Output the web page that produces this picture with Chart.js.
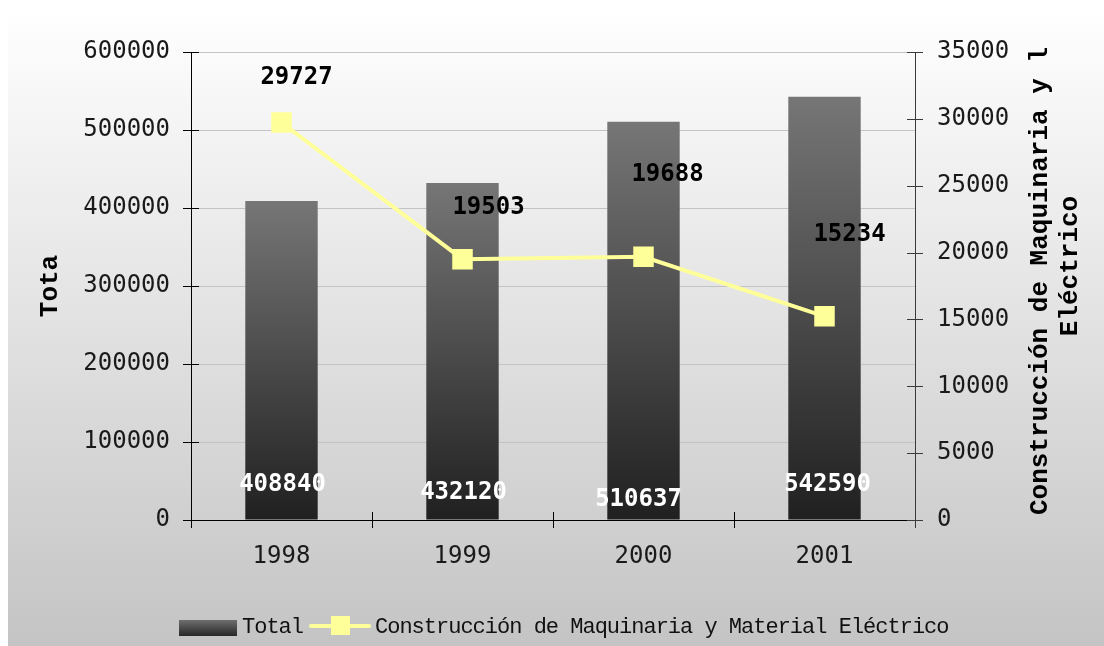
<!DOCTYPE html>
<html><head><meta charset="utf-8">
<script src="https://cdn.jsdelivr.net/npm/chart.js@4/dist/chart.umd.min.js"></script>
<style>html,body{margin:0;padding:0;background:#fff;}canvas{display:block;}</style>
</head><body>
<canvas id="c" width="1104" height="646"></canvas>
<script>
const categories = ['1998', '1999', '2000', '2001'];
const totalValues = [408840, 432120, 510637, 542590];
const maquinariaValues = [29727, 19503, 19688, 15234];
const leftTickValues = [0, 100000, 200000, 300000, 400000, 500000, 600000];
const rightTickValues = [0, 5000, 10000, 15000, 20000, 25000, 30000, 35000];
const seriesNames = ['Total', 'Construcción de Maquinaria y Material Eléctrico'];
const leftTitle = 'Tota';
const rightTitleLines = ['Construcción de Maquinaria y l', 'Eléctrico'];

// label placement tweaks (relative to the marks)
const lineLabelOffsets = [[15, -45], [26, -51], [24, -82], [25, -82]];
const barLabelOffsets = [[1, -35], [1, -27], [-5, -20], [3, -35]];

const TICK_FONT = '"DejaVu Sans Mono", monospace';

function barGradient(ctx) {
  const chart = ctx.chart;
  if (!chart.chartArea || ctx.raw === undefined) return '#444';
  const y = chart.scales.y;
  const top = y.getPixelForValue(ctx.raw);
  const bot = y.getPixelForValue(0);
  const g = chart.ctx.createLinearGradient(0, top, 0, bot);
  g.addColorStop(0, '#767676');
  g.addColorStop(1, '#202020');
  return g;
}

const bgPlugin = {
  id: 'bg',
  beforeDraw(chart) {
    const c = chart.ctx;
    c.save();
    c.fillStyle = '#ffffff';
    c.fillRect(0, 0, chart.width, chart.height);
    const g = c.createLinearGradient(0, 8, 0, chart.height);
    g.addColorStop(0, '#ffffff');
    g.addColorStop(1, '#c4c4c4');
    c.fillStyle = g;
    c.fillRect(8, 8, chart.width - 8, chart.height - 8);
    c.restore();
  }
};

const decorPlugin = {
  id: 'decor',
  afterDatasetsDraw(chart) {
    const c = chart.ctx;
    const ca = chart.chartArea;
    const x = chart.scales.x, y = chart.scales.y, y1 = chart.scales.y1;
    c.save();
    // axes lines
    c.lineWidth = 1;
    c.strokeStyle = '#000';
    c.beginPath();
    c.moveTo(Math.round(ca.left) + 0.5, ca.top);
    c.lineTo(Math.round(ca.left) + 0.5, ca.bottom + 8);
    c.moveTo(ca.left - 8, Math.round(ca.bottom) + 0.5);
    c.lineTo(ca.right, Math.round(ca.bottom) + 0.5);
    leftTickValues.forEach(v => {
      const py = Math.round(y.getPixelForValue(v)) + 0.5;
      c.moveTo(ca.left - 8, py); c.lineTo(ca.left + 8, py);
    });
    for (let i = 1; i < categories.length; i++) {
      const px = Math.round(x.getPixelForValue(i - 0.5)) + 0.5;
      c.moveTo(px, ca.bottom - 8); c.lineTo(px, ca.bottom + 8);
    }
    c.stroke();
    c.strokeStyle = '#3a3a3a';
    c.beginPath();
    c.moveTo(Math.round(ca.right) + 0.5, ca.top);
    c.lineTo(Math.round(ca.right) + 0.5, ca.bottom + 8);
    rightTickValues.forEach(v => {
      const py = Math.round(y1.getPixelForValue(v)) + 0.5;
      c.moveTo(ca.right - 8, py); c.lineTo(ca.right + 8, py);
    });
    c.stroke();
    c.restore();
  },
  afterDraw(chart) {
    const c = chart.ctx;
    const ca = chart.chartArea;
    c.save();
    // bar labels
    const barMeta = chart.getDatasetMeta(1);
    c.font = 'bold 24px ' + TICK_FONT;
    c.textAlign = 'center';
    c.textBaseline = 'middle';
    c.fillStyle = '#ffffff';
    barMeta.data.forEach((el, i) => {
      const o = barLabelOffsets[i];
      c.fillText(String(totalValues[i]), el.x + o[0], el.base + o[1]);
    });
    // line labels
    const lineMeta = chart.getDatasetMeta(0);
    c.fillStyle = '#000000';
    lineMeta.data.forEach((el, i) => {
      const o = lineLabelOffsets[i];
      c.fillText(String(maquinariaValues[i]), el.x + o[0], el.y + o[1]);
    });
    // axis titles
    c.font = 'bold 26px "Liberation Mono", monospace';
    c.save();
    c.translate(50, (ca.top + ca.bottom) / 2);
    c.rotate(-Math.PI / 2);
    c.fillText(leftTitle, 0, 0);
    c.restore();
    c.save();
    c.translate(1040, 281);
    c.rotate(-Math.PI / 2);
    c.fillText(rightTitleLines[0], 0, 0);
    c.restore();
    c.save();
    c.translate(1070, 266);
    c.rotate(-Math.PI / 2);
    c.fillText(rightTitleLines[1], 0, 0);
    c.restore();
    // legend
    const ly = 627;
    const lg = c.createLinearGradient(0, 620, 0, 636);
    lg.addColorStop(0, '#6e6e6e');
    lg.addColorStop(1, '#282828');
    c.fillStyle = lg;
    c.fillRect(179, 620, 58, 16);
    c.font = '22px "Liberation Mono", monospace';
    c.letterSpacing = '-1px';
    c.textAlign = 'left';
    c.fillStyle = '#111';
    c.fillText(seriesNames[0], 242, ly);
    c.strokeStyle = '#ffff99';
    c.lineWidth = 4;
    c.lineCap = 'round';
    c.beginPath(); c.moveTo(311, 626); c.lineTo(369, 626); c.stroke();
    c.fillStyle = '#ffff99';
    c.fillRect(331, 616, 19, 19);
    c.fillStyle = '#111';
    c.fillText(seriesNames[1], 375, ly);
    c.restore();
  }
};

new Chart(document.getElementById('c'), {
  data: {
    labels: categories,
    datasets: [
      {
        type: 'line',
        label: seriesNames[1],
        data: maquinariaValues,
        yAxisID: 'y1',
        order: 0,
        borderColor: '#ffff99',
        borderWidth: 4,
        tension: 0,
        pointStyle: 'rect',
        pointRadius: 14.5,
        pointHoverRadius: 14.5,
        pointBackgroundColor: '#ffff99',
        pointBorderColor: '#ffff99',
        pointBorderWidth: 0
      },
      {
        type: 'bar',
        label: seriesNames[0],
        data: totalValues,
        yAxisID: 'y',
        order: 1,
        backgroundColor: barGradient,
        barPercentage: 0.4,
        categoryPercentage: 1.0
      }
    ]
  },
  options: {
    responsive: false,
    devicePixelRatio: 1,
    animation: false,
    events: [],
    layout: { padding: { top: 52, left: 0, right: 0, bottom: 0 } },
    plugins: { legend: { display: false }, tooltip: { enabled: false } },
    scales: {
      x: {
        type: 'category',
        grid: { display: false, drawTicks: false },
        border: { display: false },
        ticks: { color: '#1a1a1a', font: { family: TICK_FONT, size: 24 }, padding: 22 },
        afterFit(s) { s.height = 126; }
      },
      y: {
        position: 'left',
        min: 0, max: 600000,
        afterBuildTicks(s) { s.ticks = leftTickValues.map(v => ({ value: v })); },
        grid: { color: '#c3c3c3', lineWidth: 1, drawTicks: false },
        border: { display: false },
        ticks: { color: '#1a1a1a', font: { family: TICK_FONT, size: 24 }, padding: 21, callback: v => String(v) },
        afterFit(s) { s.width = 191; }
      },
      y1: {
        position: 'right',
        min: 0, max: 35000,
        afterBuildTicks(s) { s.ticks = rightTickValues.map(v => ({ value: v })); },
        grid: { display: false, drawTicks: false },
        border: { display: false },
        ticks: { color: '#1a1a1a', font: { family: TICK_FONT, size: 24 }, padding: 22, callback: v => String(v) },
        afterFit(s) { s.width = 189; }
      }
    }
  },
  plugins: [bgPlugin, decorPlugin]
});
</script>
</body></html>
